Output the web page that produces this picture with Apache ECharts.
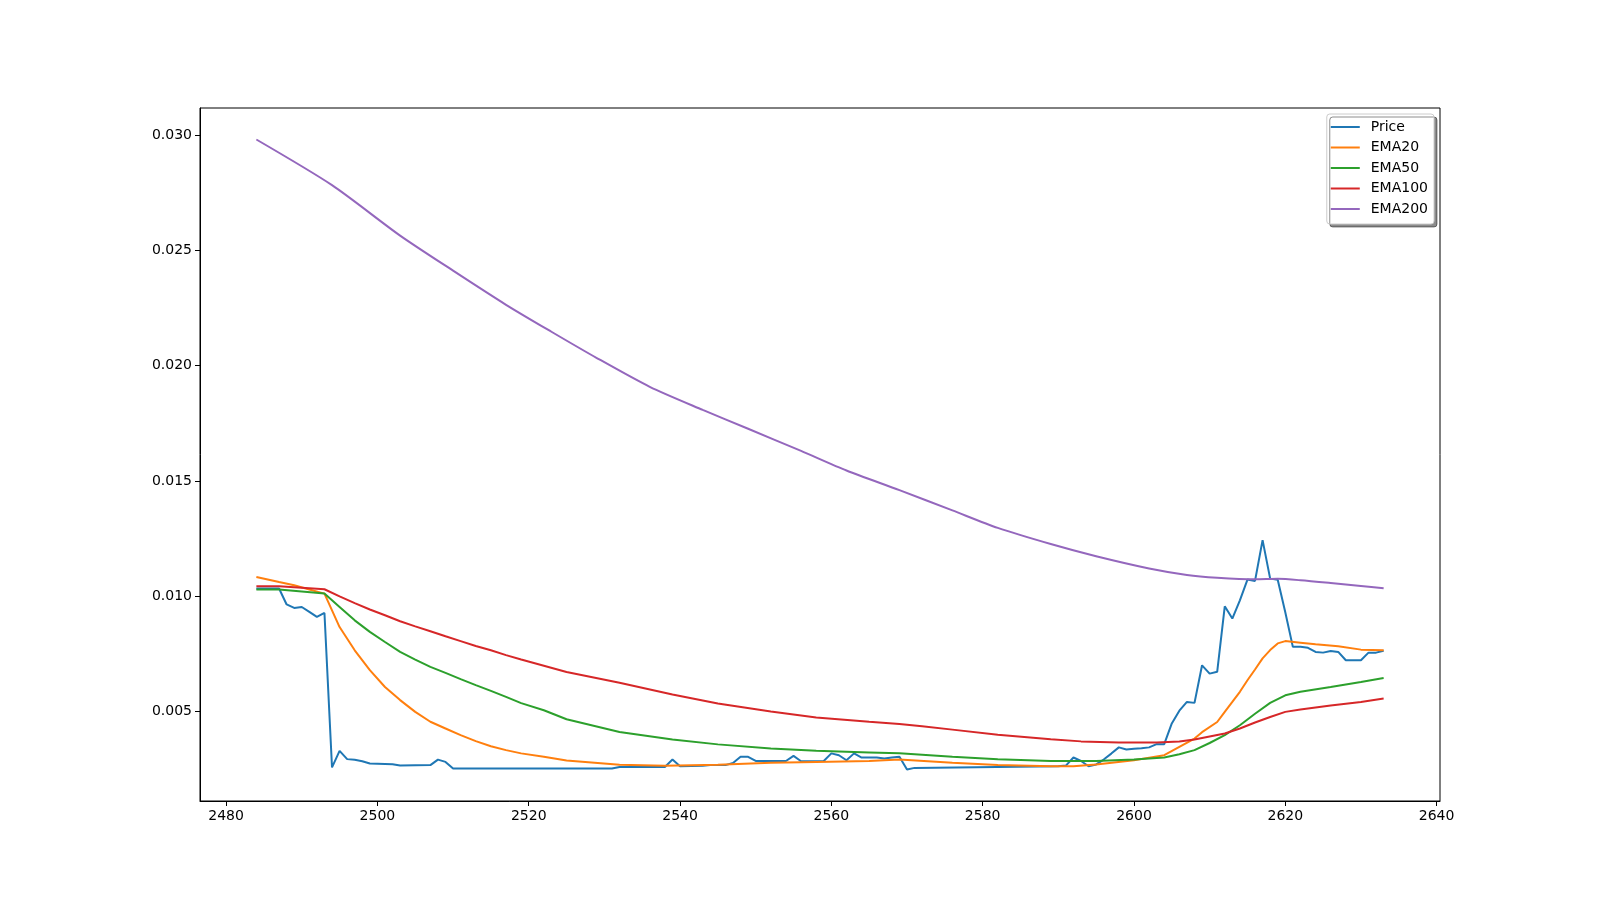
<!DOCTYPE html>
<html>
<head>
<meta charset="utf-8">
<script src="https://cdn.jsdelivr.net/npm/echarts@6/dist/echarts.min.js"></script>
<style>
html,body{margin:0;padding:0;background:#fff;}
#chart{width:1600px;height:900px;}
</style>
</head>
<body>
<div id="chart"></div>
<script>
// ---- data ----
const seriesNames = ['Price', 'EMA20', 'EMA50', 'EMA100', 'EMA200'];

const priceX = [2484,2487,2488,2489,2490,2491,2492,2493,2494,2495,2496,2497,2498,2499,2500,2502,2503,2507,2508,2509,2510,2531,2532,2538,2539,2540,2543,2544,2546,2547,2548,2549,2550,2554,2555,2556,2559,2560,2561,2562,2563,2564,2566,2567,2568,2569,2570,2571,2590,2591,2592,2593,2594,2595,2596,2597,2598,2599,2600,2601,2602,2603,2604,2605,2606,2607,2608,2609,2610,2611,2612,2613,2614,2615,2616,2617,2618,2619,2620,2621,2622,2623,2624,2625,2626,2627,2628,2630,2631,2632,2633];
const priceY = [0.01033,0.01033,0.00964,0.00949,0.00953,0.00932,0.0091,0.00927,0.00257,0.00329,0.00293,0.0029,0.00284,0.00274,0.00273,0.00271,0.00265,0.00267,0.00291,0.00281,0.00252,0.00252,0.00259,0.00259,0.00291,0.00262,0.00264,0.00267,0.00267,0.00276,0.00303,0.00303,0.00285,0.00285,0.00307,0.00284,0.00285,0.00318,0.0031,0.00288,0.00318,0.003,0.003,0.00296,0.003,0.00303,0.00248,0.00255,0.00262,0.00265,0.003,0.00285,0.00262,0.0027,0.00291,0.00317,0.00344,0.00335,0.00338,0.0034,0.00344,0.00358,0.00358,0.00448,0.00503,0.00541,0.00537,0.007,0.00664,0.00672,0.00956,0.00903,0.00982,0.01072,0.01066,0.01243,0.01076,0.01071,0.0093,0.0078,0.0078,0.00776,0.00758,0.00755,0.00762,0.00758,0.00722,0.00722,0.00755,0.00755,0.00763];

const ema20X = [2484,2487,2489,2491,2493,2495,2497,2499,2501,2503,2505,2507,2509,2511,2513,2515,2517,2519,2522,2525,2532,2538,2545,2552,2558,2565,2569,2576,2582,2589,2592,2595,2600,2604,2606,2608,2609,2611,2612,2613,2614,2615,2616,2617,2618,2619,2620,2622,2624,2627,2630,2633];
const ema20Y = [0.01083,0.01061,0.01047,0.01029,0.01011,0.00866,0.00765,0.00679,0.00606,0.00549,0.00498,0.00455,0.00426,0.00397,0.00371,0.00349,0.00332,0.00318,0.00303,0.00287,0.00269,0.00264,0.00269,0.00277,0.00281,0.00285,0.00291,0.00277,0.00267,0.00262,0.00262,0.0027,0.00288,0.0031,0.00346,0.00382,0.00410,0.00454,0.00498,0.00541,0.00585,0.00635,0.00682,0.0073,0.00766,0.00795,0.00805,0.00798,0.00791,0.00783,0.00768,0.00765];

const ema50X = [2484,2487,2490,2493,2495,2497,2499,2501,2503,2505,2507,2509,2511,2513,2515,2517,2519,2522,2525,2532,2539,2545,2552,2558,2565,2569,2576,2582,2589,2595,2600,2604,2606,2608,2610,2612,2614,2616,2618,2620,2622,2626,2630,2633];
const ema50Y = [0.01029,0.01029,0.0102,0.01011,0.00953,0.00895,0.00845,0.00801,0.00758,0.00725,0.00693,0.00667,0.0064,0.00614,0.00589,0.00563,0.00536,0.00505,0.00466,0.00411,0.00378,0.00357,0.00339,0.00329,0.00322,0.00318,0.00303,0.00293,0.00285,0.00285,0.00291,0.003,0.00314,0.00332,0.00363,0.00397,0.0044,0.0049,0.00537,0.0057,0.00585,0.00606,0.00628,0.00645];

const ema100X = [2484,2487,2493,2495,2497,2499,2501,2503,2505,2507,2509,2511,2513,2515,2517,2519,2525,2532,2539,2545,2552,2558,2565,2569,2572,2576,2582,2589,2593,2598,2603,2606,2608,2612,2614,2616,2618,2620,2622,2626,2630,2633];
const ema100Y = [0.01043,0.01043,0.0103,0.00999,0.0097,0.00942,0.00917,0.00891,0.00869,0.00848,0.00826,0.00805,0.00784,0.00765,0.00744,0.00725,0.00671,0.00624,0.00573,0.00534,0.005,0.00474,0.00455,0.00445,0.00436,0.00421,0.00399,0.00379,0.0037,0.00365,0.00365,0.00369,0.00378,0.00404,0.00426,0.00452,0.00476,0.00498,0.00508,0.00526,0.00541,0.00556];

const ema200X = [2484,2494,2503,2510,2517,2523,2529,2536,2543,2549,2556,2562,2569,2576,2582,2589,2595,2602,2607,2611,2616,2619,2622,2626,2630,2633];
const ema200Y = [0.02981,0.02783,0.02564,0.02412,0.02264,0.02147,0.02033,0.01908,0.01808,0.01726,0.0163,0.01545,0.0146,0.01372,0.01296,0.01226,0.01173,0.0112,0.01092,0.0108,0.01073,0.01075,0.01069,0.01057,0.01044,0.01034];

const xTicks = [2480, 2500, 2520, 2540, 2560, 2580, 2600, 2620, 2640];
const yTicks = [0.005, 0.010, 0.015, 0.020, 0.025, 0.030];

// ---- chart ----
const colors = ['#1f77b4', '#ff7f0e', '#2ca02c', '#d62728', '#9467bd'];
const smoothing = [false, false, false, false, 0.25];
const allX = [priceX, ema20X, ema50X, ema100X, ema200X];
const allY = [priceY, ema20Y, ema50Y, ema100Y, ema200Y];

function zip(xs, ys) { return xs.map((x, i) => [x, ys[i]]); }

const flatX = [].concat(...allX), flatY = [].concat(...allY);
const xMinD = Math.min(...flatX), xMaxD = Math.max(...flatX);
const yMinD = Math.min(...flatY), yMaxD = Math.max(...flatY);
const xPad = (xMaxD - xMinD) * 0.05, yPad = (yMaxD - yMinD) * 0.05;

const font = 'DejaVu Sans';
const chart = echarts.init(document.getElementById('chart'), null, { renderer: 'canvas' });
chart.setOption({
  animation: false,
  backgroundColor: '#ffffff',
  grid: { left: 200, right: 160, top: 108, bottom: 99, show: true, borderColor: '#000', borderWidth: 1, backgroundColor: 'transparent' },
  xAxis: {
    type: 'value', min: xMinD - xPad, max: xMaxD + xPad,
    axisLine: { show: true, onZero: false, lineStyle: { color: '#000', width: 1 } },
    axisTick: { show: true, inside: false, length: 5, lineStyle: { color: '#000', width: 1 }, customValues: xTicks },
    axisLabel: { show: true, margin: 8, color: '#000', fontFamily: font, fontSize: 14, customValues: xTicks, formatter: v => String(Math.round(v)) },
    splitLine: { show: false }
  },
  yAxis: {
    type: 'value', min: yMinD - yPad, max: yMaxD + yPad,
    axisLine: { show: true, onZero: false, lineStyle: { color: '#000', width: 1 } },
    axisTick: { show: true, inside: false, length: 5, lineStyle: { color: '#000', width: 1 }, customValues: yTicks },
    axisLabel: { show: true, margin: 8, color: '#000', fontFamily: font, fontSize: 14, customValues: yTicks, formatter: v => v.toFixed(3) },
    splitLine: { show: false }
  },
  legend: {
    show: true, orient: 'vertical', right: 166, top: 114,
    data: seriesNames, icon: 'rect', itemWidth: 29, itemHeight: 2, itemGap: 6.5,
    selectedMode: false,
    padding: [6, 6, 8, 4],
    backgroundColor: '#fff', borderColor: '#cccccc', borderWidth: 1, borderRadius: 3,
    shadowColor: 'rgba(0,0,0,0.45)', shadowOffsetX: 3, shadowOffsetY: 3, shadowBlur: 0,
    textStyle: { color: '#000', fontFamily: font, fontSize: 14, lineHeight: 14, padding: [0, 0, 0, 6] }
  },
  series: seriesNames.map((name, i) => ({
    name, type: 'line', data: zip(allX[i], allY[i]), showSymbol: false, symbol: 'none',
    smooth: smoothing[i],
    color: colors[i], lineStyle: { color: colors[i], width: 2 }, z: 2 + i
  }))
});
</script>
</body>
</html>
